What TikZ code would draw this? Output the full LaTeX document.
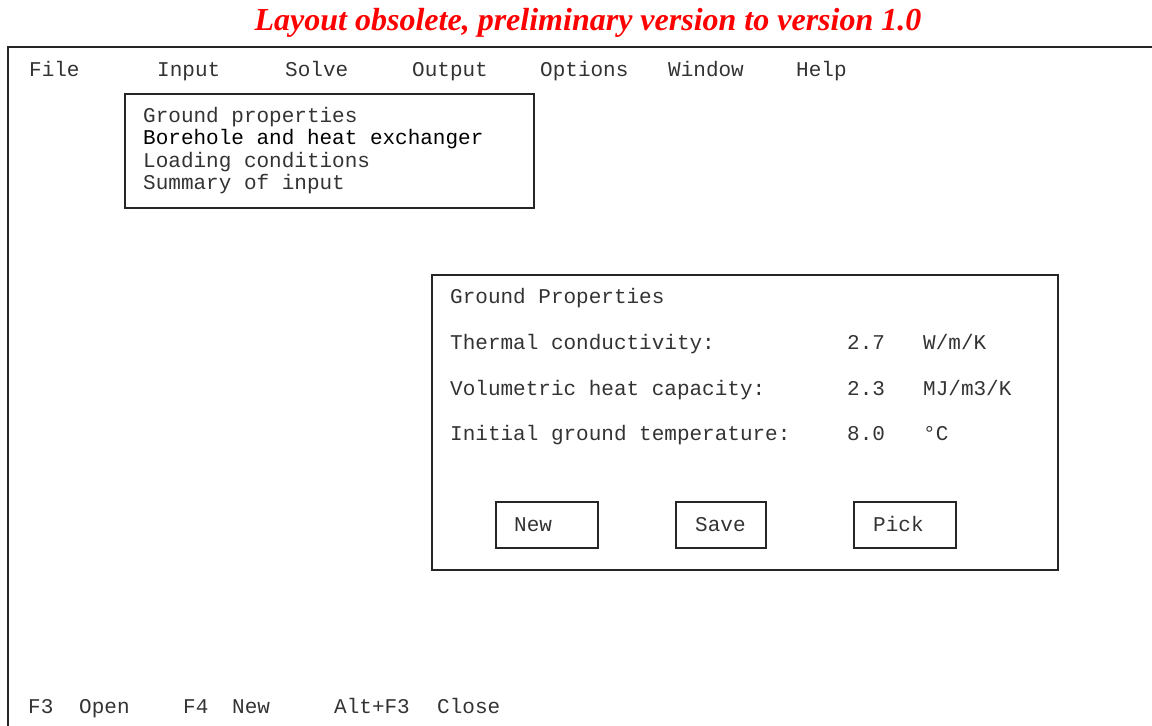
\documentclass[tikz,border=0pt]{standalone}
\usepackage{fontspec}
\setmainfont{Liberation Serif}
\setmonofont{Liberation Mono}
\definecolor{titlered}{RGB}{255,0,0}
\begin{document}
\begin{tikzpicture}[x=1pt,y=-1pt,
  mono/.style={anchor=base west,inner sep=0pt,font=\ttfamily\fontsize{21}{25}\selectfont,text=black!80},
  frame/.style={draw=black!85,line width=1.6pt},
  boxnode/.style={frame,anchor=north west,inner sep=0pt}]
\useasboundingbox (0,0) rectangle (1152,726);
% title
\node[anchor=base,inner sep=0pt,text=titlered,font=\rmfamily\bfseries\itshape\fontsize{32}{37}\selectfont] (title) at (588,30) {Layout obsolete, preliminary version to version 1.0};
% outer screen frame
\coordinate (scrTL) at (8,47);
\coordinate (scrTR) at (1152,47);
\coordinate (scrBL) at (8,726);
\draw[frame] (scrTR) -- (scrTL) -- (scrBL);
% menu bar
\node[mono] (mFile) at (29,76) {File};
\node[mono] (mInput) at (157,76) {Input};
\node[mono] (mSolve) at (285,76) {Solve};
\node[mono] (mOutput) at (412,76) {Output};
\node[mono] (mOptions) at (540,76) {Options};
\node[mono] (mWindow) at (668,76) {Window};
\node[mono] (mHelp) at (796,76) {Help};
% dropdown
\node[boxnode,minimum width=409pt,minimum height=114pt] (drop) at (124,93) {};
\node[mono] (d1) at (143,122) {Ground properties};
\node[mono,text=black] (d2) at (143,144.5) {Borehole and heat exchanger};
\node[mono] (d3) at (143,167) {Loading conditions};
\node[mono] (d4) at (143,189.5) {Summary of input};
% dialog
\node[boxnode,minimum width=626pt,minimum height=295pt] (dlg) at (431,274) {};
\node[mono] (dt) at (450,303) {Ground Properties};
\node[mono] (l1) at (450,349) {Thermal conductivity:};
\node[mono] (v1) at (847,349) {2.7};
\node[mono] (u1) at (923,349) {W/m/K};
\node[mono] (l2) at (450,395) {Volumetric heat capacity:};
\node[mono] (v2) at (847,395) {2.3};
\node[mono] (u2) at (923,395) {MJ/m3/K};
\node[mono] (l3) at (450,440) {Initial ground temperature:};
\node[mono] (v3) at (847,440) {8.0};
\node[mono] (u3) at (923,440) {°C};
% buttons
\node[boxnode,minimum width=102pt,minimum height=46pt] (bNew) at (495,501) {};
\node[boxnode,minimum width=90pt,minimum height=46pt] (bSave) at (675,501) {};
\node[boxnode,minimum width=102pt,minimum height=46pt] (bPick) at (853,501) {};
\node[mono] (tNew) at (514,531) {New};
\node[mono] (tSave) at (695,531) {Save};
\node[mono] (tPick) at (873,531) {Pick};
% status line
\node[mono] (s1) at (28,713) {F3};
\node[mono] (s2) at (79,713) {Open};
\node[mono] (s3) at (183,713) {F4};
\node[mono] (s4) at (232,713) {New};
\node[mono] (s5) at (334,713) {Alt+F3};
\node[mono] (s6) at (437,713) {Close};
\end{tikzpicture}
\end{document}
